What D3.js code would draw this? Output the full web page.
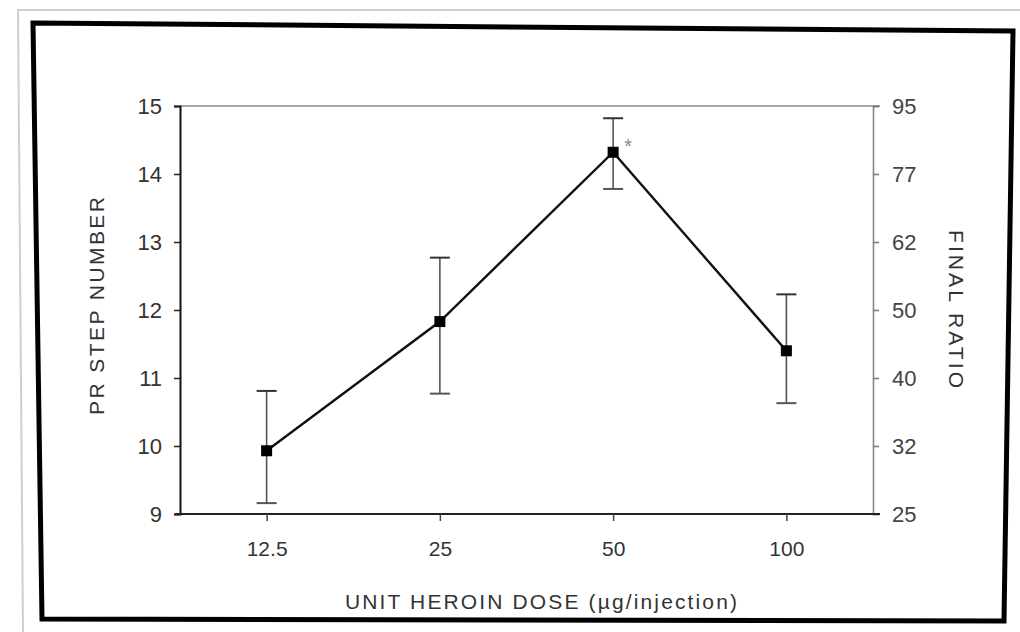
<!DOCTYPE html>
<html>
<head>
<meta charset="utf-8">
<script src="https://cdn.jsdelivr.net/npm/d3@7"></script>
<style>
  html, body { margin: 0; padding: 0; background: #fff; }
  svg { display: block; }
  text { font-family: "Liberation Sans", Arial, sans-serif; }
</style>
</head>
<body>
<svg id="chart" width="1020" height="632"></svg>
<script>
// ---- data ----
const doses = ["12.5", "25", "50", "100"];
const meanSteps = [9.93, 11.83, 14.32, 11.40];
const errUpper = [10.81, 12.77, 14.82, 12.23];
const errLower = [9.16, 10.77, 13.78, 10.63];
const significant = [false, false, true, false];
const leftTicks = [9, 10, 11, 12, 13, 14, 15];
const ratioLabels = ["25", "32", "40", "50", "62", "77", "95"];
const xTitle = "UNIT HEROIN DOSE (µg/injection)";
const yTitle = "PR STEP NUMBER";
const y2Title = "FINAL RATIO";

(function () {
const svg = d3.select("#chart");

// page edge (scan) and frame
svg.append("path")
  .attr("d", "M1020,10 L18,10 L23,632")
  .attr("fill", "none").attr("stroke", "#cfcfcf").attr("stroke-width", 2);
svg.append("path")
  .attr("d", "M33,23 L1013,31 L1004,621 L42,619 Z")
  .attr("fill", "#fff").attr("stroke", "#000").attr("stroke-width", 5)
  .attr("stroke-linejoin", "miter");

const pL = 180, pR = 873, pT = 106, pB = 514;

const x = d3.scalePoint().domain(doses).range([pL, pR]).padding(0.5);
const y = d3.scaleLinear().domain([9, 15]).range([pB, pT]);

const g = svg.append("g");

// top border of plot (grey, scanned look)
g.append("line").attr("x1", pL).attr("x2", pR + 7).attr("y1", pT).attr("y2", pT)
  .attr("stroke", "#888").attr("stroke-width", 1.6);

// left axis
const yAxis = d3.axisLeft(y).tickValues(leftTicks).tickSize(6).tickPadding(12).tickFormat(d3.format("d"));
const gy = g.append("g").attr("transform", `translate(${pL},0)`).call(yAxis);
gy.select(".domain").attr("stroke", "#111").attr("stroke-width", 2);
gy.selectAll(".tick line").attr("stroke", "#222").attr("stroke-width", 1.5);
gy.selectAll(".tick text").attr("font-size", 22).attr("fill", "#333");

// right axis (final ratio labels at step positions)
const y2Axis = d3.axisRight(y).tickValues(leftTicks).tickSize(6).tickPadding(13)
  .tickFormat((d, i) => ratioLabels[i]);
const gy2 = g.append("g").attr("transform", `translate(${pR},0)`).call(y2Axis);
gy2.select(".domain").attr("stroke", "#888").attr("stroke-width", 1.6);
gy2.selectAll(".tick line").attr("stroke", "#777").attr("stroke-width", 1.5);
gy2.selectAll(".tick text").attr("font-size", 22).attr("fill", "#444");

// bottom axis
const xAxis = d3.axisBottom(x).tickSize(7).tickPadding(20);
const gx = g.append("g").attr("transform", `translate(0,${pB})`).call(xAxis);
gx.select(".domain").attr("stroke", "#222").attr("stroke-width", 2)
  .attr("d", `M${pL - 5},0H${pR + 7}`);
gx.selectAll(".tick line").attr("stroke", "#444").attr("stroke-width", 1.5);
gx.selectAll(".tick text").attr("font-size", 21).attr("fill", "#333");

// error bars
const capW = 10;
const eb = g.append("g").selectAll("g").data(doses).join("g");
eb.append("line")
  .attr("x1", d => x(d)).attr("x2", d => x(d))
  .attr("y1", (d, i) => y(errUpper[i])).attr("y2", (d, i) => y(errLower[i]))
  .attr("stroke", "#555").attr("stroke-width", 1.6);
eb.append("line")
  .attr("x1", d => x(d) - capW).attr("x2", d => x(d) + capW)
  .attr("y1", (d, i) => y(errUpper[i])).attr("y2", (d, i) => y(errUpper[i]))
  .attr("stroke", "#333").attr("stroke-width", 2);
eb.append("line")
  .attr("x1", d => x(d) - capW).attr("x2", d => x(d) + capW)
  .attr("y1", (d, i) => y(errLower[i])).attr("y2", (d, i) => y(errLower[i]))
  .attr("stroke", "#555").attr("stroke-width", 2);

// line
const line = d3.line().x((d, i) => x(doses[i])).y(d => y(d));
g.append("path").datum(meanSteps).attr("d", line)
  .attr("fill", "none").attr("stroke", "#111").attr("stroke-width", 2.4);

// markers
g.append("g").selectAll("rect").data(meanSteps).join("rect")
  .attr("x", (d, i) => x(doses[i]) - 5.5).attr("y", d => y(d) - 5.5)
  .attr("width", 11).attr("height", 11).attr("fill", "#000");

// significance asterisk
g.append("g").selectAll("text").data(doses.filter((d, i) => significant[i])).join("text")
  .attr("x", d => x(d) + 15).attr("y", d => y(meanSteps[doses.indexOf(d)]) + 1)
  .attr("font-size", 20).attr("fill", "#888").attr("text-anchor", "middle")
  .text("*");

// axis titles
svg.append("text")
  .attr("transform", "translate(104,306) rotate(-90)")
  .attr("text-anchor", "middle").attr("font-size", 21).attr("fill", "#333")
  .attr("textLength", 218).attr("lengthAdjust", "spacing")
  .text(yTitle);

svg.append("text")
  .attr("transform", "translate(949,309) rotate(90)")
  .attr("text-anchor", "middle").attr("font-size", 21).attr("fill", "#333")
  .attr("textLength", 158).attr("lengthAdjust", "spacing")
  .text(y2Title);

svg.append("text")
  .attr("x", 541).attr("y", 609)
  .attr("text-anchor", "middle").attr("font-size", 21).attr("fill", "#333")
  .attr("textLength", 392).attr("lengthAdjust", "spacing")
  .text(xTitle);
})();
</script>
</body>
</html>
